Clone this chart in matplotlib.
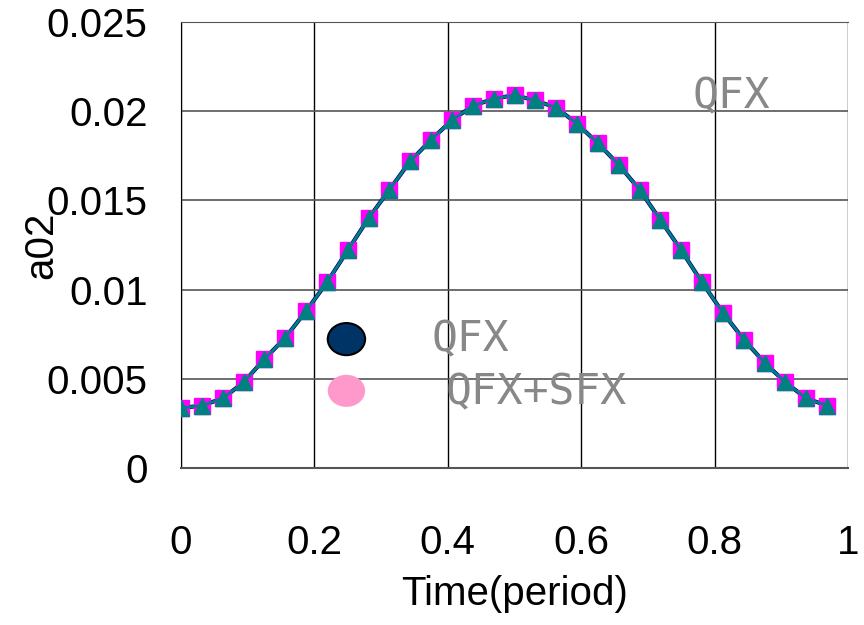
import matplotlib
matplotlib.use('Agg')
import matplotlib.pyplot as plt
from matplotlib.patches import Ellipse

plt.rcParams['font.family'] = ['Liberation Sans', 'DejaVu Sans']

# time (period), 32 samples per period
t = [k / 32 for k in range(32)]
a02 = [0.00336, 0.0035, 0.0039, 0.0048, 0.0061, 0.0073, 0.0088, 0.0104,
       0.0122, 0.0140, 0.0156, 0.0172, 0.0184, 0.0195, 0.0203, 0.0207,
       0.0209, 0.0206, 0.0202, 0.0193, 0.0182, 0.0170, 0.0156, 0.0139,
       0.0122, 0.0104, 0.0087, 0.0072, 0.0059, 0.0048, 0.0039, 0.0035]
a02_sfx = [0.00338, 0.0035, 0.0039, 0.0048, 0.0061, 0.0073, 0.0088, 0.0104,
           0.0122, 0.0140, 0.0156, 0.0172, 0.0184, 0.0195, 0.0203, 0.0207,
           0.0209, 0.0206, 0.0202, 0.0193, 0.0182, 0.0170, 0.0156, 0.0139,
           0.0122, 0.0104, 0.0087, 0.0072, 0.0059, 0.0048, 0.0039, 0.0035]

xticks = [0, 0.2, 0.4, 0.6, 0.8, 1]
xtick_labels = ['0', '0.2', '0.4', '0.6', '0.8', '1']
yticks = [0, 0.005, 0.01, 0.015, 0.02, 0.025]
ytick_labels = ['0', '0.005', '0.01', '0.015', '0.02', '0.025']

fig = plt.figure(figsize=(8.64, 6.25), dpi=100)
ax = fig.add_axes([0.2095, 0.2512, 0.772, 0.7136])

ax.plot(t, a02, color='#000080', lw=3, marker='o', ms=4, zorder=3)
ax.plot(t, a02_sfx, color='#FF00FF', lw=0, marker='s', ms=11, zorder=4)
ax.plot(t, a02, color='#008080', lw=2, marker='^', ms=12, zorder=5)

ax.set_xlim(0, 1)
ax.set_ylim(0, 0.025)
ax.set_xticks(xticks)
ax.set_xticklabels(xtick_labels)
ax.set_yticks(yticks)
ax.set_yticklabels(ytick_labels)
ax.tick_params(axis='x', labelsize=29, pad=40, length=0)
ax.tick_params(axis='y', labelsize=29, pad=24, length=0)

ax.xaxis.grid(True, color='black', lw=1)
ax.yaxis.grid(True, color='#555555', lw=1.2)
ax.set_axisbelow(True)
ax.spines['right'].set_visible(False)
ax.spines['top'].set_color('#555555')
ax.spines['bottom'].set_color('#555555')
ax.spines['bottom'].set_linewidth(1.5)
ax.spines['left'].set_color('black')

ax.set_xlabel('Time(period)', fontsize=29, labelpad=10)
ax.set_ylabel('a02', fontsize=29, labelpad=-10)

# legend drawn by hand
mono = ['DejaVu Sans Mono']
ax.add_patch(Ellipse((0.248, 0.289), 0.056, 0.072, transform=ax.transAxes,
                     facecolor='#003366', edgecolor='black', lw=1.5, zorder=6))
ax.add_patch(Ellipse((0.248, 0.173), 0.056, 0.072, transform=ax.transAxes,
                     facecolor='#FF99CC', edgecolor='none', zorder=6))
ax.text(0.376, 0.289, 'QFX', transform=ax.transAxes, fontsize=31,
        family=mono, color='#888888', va='center', ha='left', zorder=7)
ax.text(0.396, 0.170, 'QFX+SFX', transform=ax.transAxes, fontsize=31,
        family=mono, color='#888888', va='center', ha='left', zorder=7)
ax.text(0.767, 0.832, 'QFX', transform=ax.transAxes, fontsize=31,
        family=mono, color='#888888', va='center', ha='left', zorder=7)

fig.savefig('out.png', dpi=100)
